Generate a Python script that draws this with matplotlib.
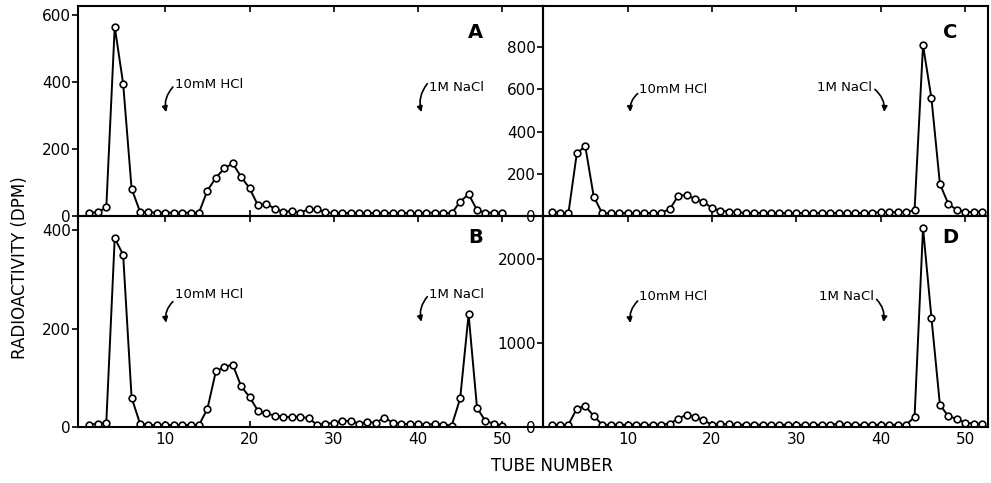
import numpy as np
import matplotlib.pyplot as plt

# tube numbers
tubes_left = np.arange(1, 51)
tubes_right = np.arange(1, 53)

# radioactivity (DPM)
dpm_a = [10, 11, 26, 565, 395, 82, 13, 11, 10, 10, 10, 10, 10, 10, 76, 114, 142, 157, 117, 83,
         32, 36, 22, 12, 15, 10, 20, 20, 12, 8, 10, 8, 10, 8, 10, 8, 10, 8, 10, 8,
         10, 10, 10, 8, 43, 65, 18, 10, 10, 10]
dpm_b = [5, 7, 9, 384, 350, 60, 7, 4, 4, 4, 4, 4, 4, 4, 37, 113, 122, 127, 83, 61,
         33, 28, 23, 21, 20, 21, 18, 5, 7, 8, 13, 12, 7, 10, 9, 19, 9, 7, 6, 6,
         5, 6, 5, 3, 58, 229, 39, 12, 7, 3]
dpm_c = [17, 16, 13, 298, 330, 92, 13, 13, 13, 16, 13, 16, 13, 16, 32, 95, 100, 80, 68, 37,
         25, 21, 19, 13, 15, 15, 15, 14, 15, 13, 15, 14, 15, 13, 15, 13, 15, 14, 16, 18,
         19, 17, 18, 28, 809, 557, 152, 57, 29, 19, 19, 21]
dpm_d = [28, 20, 28, 218, 250, 131, 28, 25, 28, 25, 28, 25, 28, 30, 40, 99, 147, 123, 79, 28,
         36, 33, 28, 28, 28, 28, 25, 25, 28, 25, 28, 25, 28, 25, 40, 28, 28, 25, 28, 25,
         28, 25, 28, 119, 2370, 1298, 266, 127, 99, 52, 40, 40]

x_ticks = [10, 20, 30, 40, 50]
yticks_a = [0, 200, 400, 600]
yticks_b = [0, 200, 400]
yticks_c = [0, 200, 400, 600, 800]
yticks_d = [0, 1000, 2000]

fig = plt.figure(figsize=(9.91, 4.83), dpi=100)
axA = fig.add_axes([0.0787, 0.5528, 0.4693, 0.4348])
axB = fig.add_axes([0.0787, 0.1159, 0.4693, 0.4369])
axC = fig.add_axes([0.548, 0.5528, 0.449, 0.4348])
axD = fig.add_axes([0.548, 0.1159, 0.449, 0.4369])

panels = [
    (axA, tubes_left, dpm_a, yticks_a, (0, 627), (-0.36, 54.84), 'A', (0.854, 0.876)),
    (axB, tubes_left, dpm_b, yticks_b, (0, 429), (-0.36, 54.84), 'B', (0.854, 0.896)),
    (axC, tubes_right, dpm_c, yticks_c, (0, 995), (0, 52.7), 'C', (0.915, 0.876)),
    (axD, tubes_right, dpm_d, yticks_d, (0, 2512), (0, 52.7), 'D', (0.915, 0.896)),
]

for ax, x, y, yt, ylim, xlim, letter, lpos in panels:
    ax.plot(x, y, color='black', lw=1.4, marker='o', ms=4.8, mfc='white', mec='black', mew=1.2)
    ax.set_ylim(*ylim)
    ax.set_xlim(*xlim)
    ax.set_yticks(yt)
    ax.set_xticks(x_ticks)
    ax.tick_params(axis='y', direction='out', length=4, width=1.2, labelsize=11, pad=1)
    ax.tick_params(axis='x', direction='in', length=4, width=1.2, labelsize=11, top=True)
    for s in ax.spines.values():
        s.set_linewidth(1.5)
    ax.text(lpos[0], lpos[1], letter, transform=ax.transAxes, fontsize=14,
            fontweight='bold', ha='center', va='center')
    ax.patch.set_alpha(0)

axA.tick_params(axis='x', labelbottom=False)
axC.tick_params(axis='x', labelbottom=False)

arr = dict(arrowstyle='-|>', color='black', lw=1.2, mutation_scale=8, shrinkA=0, shrinkB=0)

# 10mM HCl arrows
hcl = [
    (axA, (11.2, 394), (10.9, 385), (10.1, 310)),
    (axB, (11.2, 269), (10.9, 255), (10.1, 212)),
    (axC, (11.4, 597), (11.2, 580), (10.35, 493)),
    (axD, (11.4, 1548), (11.2, 1500), (10.35, 1238)),
]
for ax, tpos, start, tip in hcl:
    ax.text(tpos[0], tpos[1], '10mM HCl', fontsize=9.5, ha='left', va='center')
    ax.annotate('', xy=tip, xytext=start,
                arrowprops=dict(arr, connectionstyle='arc3,rad=0.25'))

# 1M NaCl arrows
nacl = [
    (axA, (41.3, 385), 'left', (41.1, 395), (40.4, 310), 0.25),
    (axB, (41.3, 269), 'left', (41.1, 265), (40.4, 214), 0.25),
    (axC, (39.0, 607), 'right', (39.3, 600), (40.4, 493), -0.25),
    (axD, (39.2, 1548), 'right', (39.5, 1520), (40.3, 1250), -0.25),
]
for ax, tpos, ha, start, tip, rad in nacl:
    ax.text(tpos[0], tpos[1], '1M NaCl', fontsize=9.5, ha=ha, va='center')
    ax.annotate('', xy=tip, xytext=start,
                arrowprops=dict(arr, connectionstyle='arc3,rad=%g' % rad))

fig.text(0.02, 0.445, 'RADIOACTIVITY (DPM)', rotation=90, fontsize=12,
         ha='center', va='center')
fig.text(0.557, 0.035, 'TUBE NUMBER', fontsize=12, ha='center', va='center')

plt.savefig('out.png', dpi=100)
